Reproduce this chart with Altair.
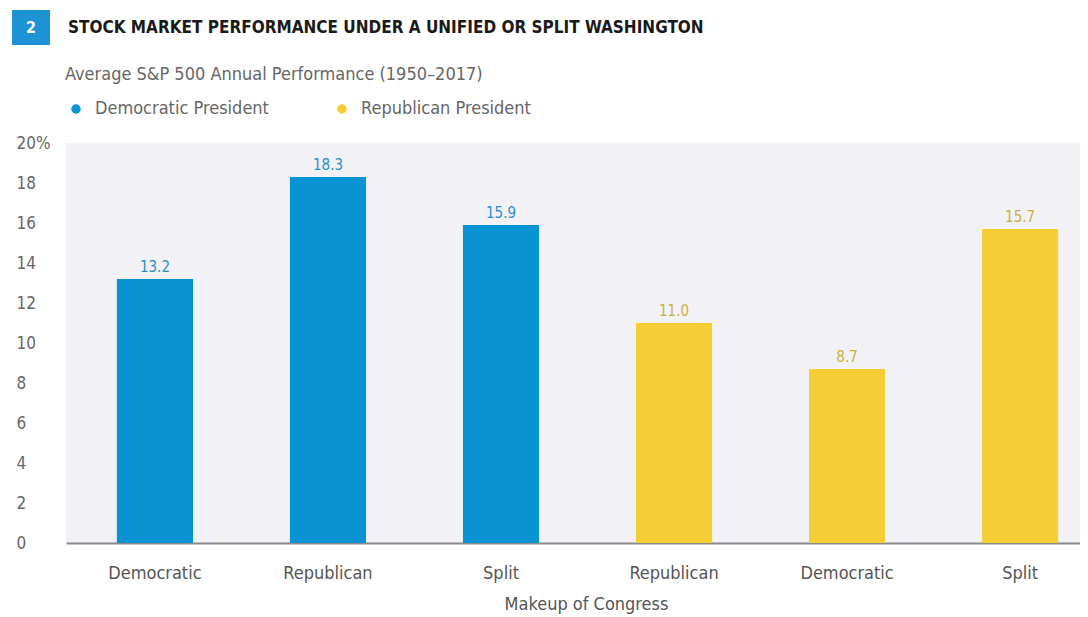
import altair as alt
import pandas as pd

congress = ["Democratic", "Republican", "Split", "Republican", "Democratic", "Split"]
president = ["Democratic President"] * 3 + ["Republican President"] * 3
values = [13.2, 18.3, 15.9, 11.0, 8.7, 15.7]
y_ticks = [0, 2, 4, 6, 8, 10, 12, 14, 16, 18, 20]
title_text = "STOCK MARKET PERFORMANCE UNDER A UNIFIED OR SPLIT WASHINGTON"
subtitle_text = "Average S&P 500 Annual Performance (1950\u20132017)"

FONT = "DejaVu Sans Condensed, Liberation Sans Narrow, Roboto Condensed, sans-serif"
BLUE = "#0a93d2"
YELLOW = "#f5ce36"

df = pd.DataFrame({
    "key": [f"{i}|{c}" for i, c in enumerate(congress)],
    "congress": congress,
    "president": president,
    "value": values,
})

x_enc = alt.X(
    "key:N",
    sort=None,
    title="Makeup of Congress",
    scale=alt.Scale(paddingInner=0.56, paddingOuter=0.21, align=0.70),
    axis=alt.Axis(
        labelExpr="split(datum.label, '|')[1]",
        labelAngle=0,
        labelFontSize=18,
        labelColor="#555555",
        labelPadding=21,
        ticks=False,
        domainColor="#8a8a8a",
        domainWidth=2,
        titleFontSize=18,
        titleFontWeight="normal",
        titleColor="#555555",
        titlePadding=13,
        titleX=520,
    ),
)

y_axis = alt.Axis(
    values=y_ticks,
    labelExpr="datum.value == 20 ? '20%' : datum.label",
    labelFontSize=17,
    labelColor="#666666",
    labelAlign="left",
    labelPadding=50,
    labelOverlap=False,
    ticks=False,
    domain=False,
    grid=False,
)
y_scale = alt.Scale(domain=[0, 20], nice=False)

color_enc = alt.Color(
    "president:N",
    scale=alt.Scale(domain=["Democratic President", "Republican President"], range=[BLUE, YELLOW]),
    legend=alt.Legend(
        title=None,
        orient="none",
        direction="horizontal",
        legendX=1,
        legendY=-43,
        symbolType="circle",
        symbolSize=90,
        symbolStrokeWidth=0,
        labelFontSize=18,
        labelColor="#666666",
        labelOffset=10,
        labelLimit=400,
        columnPadding=64,
        padding=0,
    ),
)

bars = alt.Chart(df).mark_bar().encode(
    x=x_enc,
    y=alt.Y("value:Q", title=None, scale=y_scale, axis=y_axis),
    color=color_enc,
)

labels = alt.Chart(df).mark_text(dy=-12, fontSize=15, font=FONT).encode(
    x=alt.X("key:N", sort=None),
    y=alt.Y("value:Q", title=None, scale=y_scale, axis=y_axis),
    text=alt.Text("value:Q", format=".1f"),
    color=alt.Color(
        "president:N",
        scale=alt.Scale(domain=["Democratic President", "Republican President"], range=["#2b8dc6", "#c9b13c"]),
        legend=None,
    ),
)

head_df = pd.DataFrame({"n": ["2"], "title": [title_text], "subtitle": [subtitle_text]})
badge = alt.Chart(head_df).mark_rect(color="#1d92d4").encode(
    x=alt.value(-54), x2=alt.value(-16), y=alt.value(-133), y2=alt.value(-98)
)
badge_text = alt.Chart(head_df).mark_text(
    color="white", fontSize=16, fontWeight="bold", font=FONT
).encode(x=alt.value(-35), y=alt.value(-115), text="n:N")
title_mark = alt.Chart(head_df).mark_text(
    color="#1a1a1a", fontSize=17, fontWeight="bold", font=FONT, align="left", baseline="middle"
).encode(x=alt.value(2), y=alt.value(-115), text="title:N")
subtitle_mark = alt.Chart(head_df).mark_text(
    color="#666666", fontSize=18, font=FONT, align="left", baseline="middle"
).encode(x=alt.value(-1), y=alt.value(-68), text="subtitle:N")

chart = (
    alt.layer(bars, labels, badge, badge_text, title_mark, subtitle_mark)
    .resolve_scale(color="independent")
    .properties(
        width=1014,
        height=400,
        autosize=alt.AutoSizeParams(type="none"),
        padding={"left": 58, "top": 135, "right": 0, "bottom": 72},
    )
    .configure(font=FONT)
    .configure_view(fill="#f2f2f6", stroke=None)
)

chart.save("out.html", embed_options={"renderer": "svg", "actions": False})
